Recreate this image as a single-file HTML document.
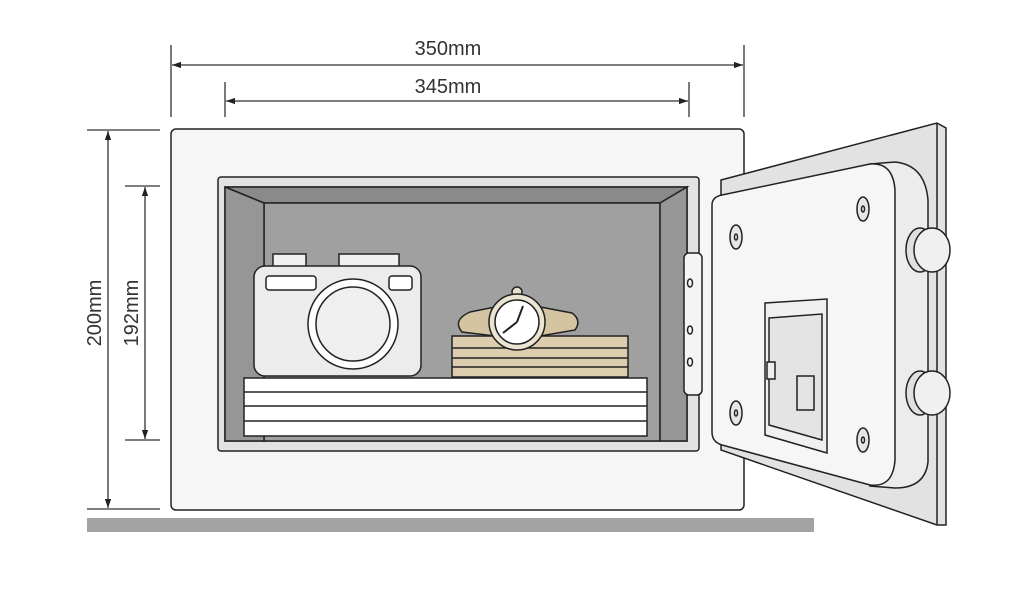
<!DOCTYPE html>
<html><head><meta charset="utf-8"><style>
html,body{margin:0;padding:0;background:#fff;width:1024px;height:605px;overflow:hidden}
svg{display:block}
text{font-family:"Liberation Sans",sans-serif;font-size:20px;fill:#333}
</style></head><body>
<svg width="1024" height="605" viewBox="0 0 1024 605" xmlns="http://www.w3.org/2000/svg">
<defs>
<marker id="a" viewBox="0 0 10 10" refX="10" refY="5" markerWidth="9" markerHeight="9" orient="auto-start-reverse" markerUnits="userSpaceOnUse"><path d="M0,1.5 L10,5 L0,8.5 z" fill="#222"/></marker>
</defs>
<g stroke="#333" stroke-width="1.3" fill="none">
<line x1="171" y1="45" x2="171" y2="117"/>
<line x1="744" y1="45" x2="744" y2="117"/>
<line x1="225" y1="82" x2="225" y2="117"/>
<line x1="689" y1="82" x2="689" y2="117"/>
<line x1="172" y1="65" x2="743" y2="65" marker-start="url(#a)" marker-end="url(#a)"/>
<line x1="226" y1="101" x2="688" y2="101" marker-start="url(#a)" marker-end="url(#a)"/>
<line x1="87" y1="130" x2="160" y2="130"/>
<line x1="87" y1="509" x2="160" y2="509"/>
<line x1="125" y1="186" x2="160" y2="186"/>
<line x1="125" y1="440" x2="160" y2="440"/>
<line x1="108" y1="131" x2="108" y2="508" marker-start="url(#a)" marker-end="url(#a)"/>
<line x1="145" y1="187" x2="145" y2="439" marker-start="url(#a)" marker-end="url(#a)"/>
</g>
<text x="448" y="55" text-anchor="middle">350mm</text>
<text x="448" y="93" text-anchor="middle">345mm</text>
<text transform="translate(101,313) rotate(-90)" text-anchor="middle">200mm</text>
<text transform="translate(138,313) rotate(-90)" text-anchor="middle">192mm</text>
<rect x="87" y="518" width="727" height="14" fill="#a3a3a3"/>
<g stroke="#222" stroke-width="1.5">
<rect x="171" y="129" width="573" height="381" rx="5" fill="#f6f6f6"/>
<rect x="218" y="177" width="481" height="274" rx="3" fill="#e2e2e2"/>
<rect x="225" y="187" width="462" height="254" fill="#8f8f8f"/>
<polygon points="225,187 687,187 660,203 264,203" fill="#8a8a8a"/>
<rect x="264" y="203" width="396" height="238" fill="#a0a0a0"/>
<polygon points="225,187 264,203 264,441 225,441" fill="#969696"/>
<polygon points="687,187 660,203 660,441 687,441" fill="#969696"/>
<rect x="244" y="378" width="403" height="58" fill="#fff"/>
<line x1="244" y1="392" x2="647" y2="392"/>
<line x1="244" y1="406" x2="647" y2="406"/>
<line x1="244" y1="421" x2="647" y2="421"/>
<rect x="273" y="254" width="33" height="13" fill="#f0f0f0"/>
<rect x="339" y="254" width="60" height="13" fill="#f0f0f0"/>
<rect x="254" y="266" width="167" height="110" rx="11" fill="#ececec"/>
<rect x="266" y="276" width="50" height="14" rx="3" fill="#fff"/>
<rect x="389" y="276" width="23" height="14" rx="3" fill="#fff"/>
<circle cx="353" cy="324" r="45" fill="#fff"/>
<circle cx="353" cy="324" r="37" fill="#efefef"/>
<rect x="452" y="336" width="176" height="41" fill="#dccdae"/>
<line x1="452" y1="348" x2="628" y2="348"/>
<line x1="452" y1="358" x2="628" y2="358"/>
<line x1="452" y1="367" x2="628" y2="367"/>
<path d="M470,312 L500,306 L535,306 L572,313 Q582,320 575,330 L540,336 L495,336 L462,332 Q452,320 470,312 z" fill="#d4c4a2"/>
<circle cx="517" cy="292" r="5" fill="#e8e0cc"/>
<circle cx="517" cy="322" r="28" fill="#ebe4d2"/>
<circle cx="517" cy="322" r="22" fill="#fff"/>
<line x1="517" y1="322" x2="523" y2="306" stroke-width="2"/>
<line x1="517" y1="322" x2="503" y2="333" stroke-width="2"/>
<!-- door plate -->
<polygon points="721,180 937,123 946,128 946,525 937,525 721,450" fill="#e2e2e2"/>
<line x1="937" y1="123" x2="937" y2="525"/>
<!-- thickness -->
<path d="M870,164 L895,162 Q925,165 928,200 L928,462 Q925,488 895,488 L870,486 z" fill="#ececec"/>
<path d="M712,205 Q712,197 722,195 L870,164 Q893,162 895,190 L895,460 Q893,488 870,485 L722,445 Q712,442 712,432 z" fill="#f6f6f6"/>
<rect x="684" y="253" width="18" height="142" rx="5" fill="#f4f4f4"/>
<ellipse cx="690" cy="283" rx="2.5" ry="4" fill="#fff"/>
<ellipse cx="690" cy="330" rx="2.5" ry="4" fill="#fff"/>
<ellipse cx="690" cy="362" rx="2.5" ry="4" fill="#fff"/>
<g fill="#e6e6e6">
<ellipse cx="736" cy="237" rx="6" ry="12"/><ellipse cx="863" cy="209" rx="6" ry="12"/>
<ellipse cx="736" cy="413" rx="6" ry="12"/><ellipse cx="863" cy="440" rx="6" ry="12"/>
</g>
<g fill="#fff">
<ellipse cx="736" cy="237" rx="1.5" ry="3"/><ellipse cx="863" cy="209" rx="1.5" ry="3"/>
<ellipse cx="736" cy="413" rx="1.5" ry="3"/><ellipse cx="863" cy="440" rx="1.5" ry="3"/>
</g>
<ellipse cx="920" cy="250" rx="14" ry="22" fill="#e0e0e0"/>
<ellipse cx="932" cy="250" rx="18" ry="22" fill="#f0f0f0"/>
<ellipse cx="920" cy="393" rx="14" ry="22" fill="#e0e0e0"/>
<ellipse cx="932" cy="393" rx="18" ry="22" fill="#f0f0f0"/>
<polygon points="765,303 827,299 827,453 765,435" fill="#f0f0f0"/>
<polygon points="769,318 822,314 822,440 769,425" fill="#e4e4e4"/>
<rect x="767" y="362" width="8" height="17" fill="#eee"/>
<rect x="797" y="376" width="17" height="34" fill="#e4e4e4"/>
</g>
</svg>
</body></html>
